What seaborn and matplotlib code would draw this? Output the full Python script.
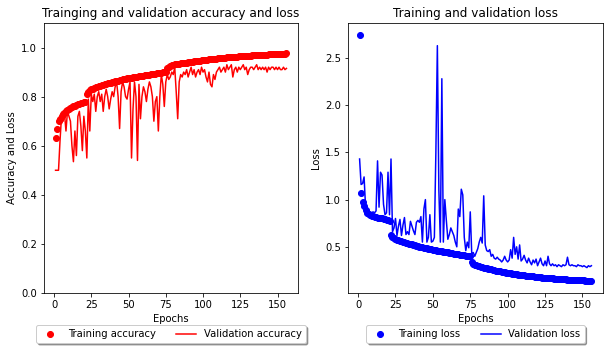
import numpy as np
import pandas as pd
import matplotlib
matplotlib.use("Agg")
import matplotlib.pyplot as plt
import seaborn as sns

epochs = list(range(1, 157))

train_acc = [
    0.63, 0.67, 0.70, 0.71, 0.72, 0.73, 0.735, 0.74, 0.745, 0.75,
    0.752, 0.756, 0.76, 0.762, 0.765, 0.768, 0.77, 0.773, 0.776, 0.778,
    0.78, 0.81, 0.82, 0.826, 0.83, 0.833, 0.836, 0.838, 0.84, 0.842,
    0.844, 0.846, 0.848, 0.85, 0.852, 0.854, 0.856, 0.857, 0.859, 0.861,
    0.862, 0.864, 0.865, 0.867, 0.868, 0.87, 0.871, 0.872, 0.874, 0.875,
    0.876, 0.877, 0.879, 0.88, 0.881, 0.882, 0.883, 0.884, 0.885, 0.886,
    0.887, 0.888, 0.889, 0.89, 0.891, 0.892, 0.893, 0.894, 0.895, 0.896,
    0.897, 0.898, 0.899, 0.90, 0.901, 0.915, 0.922, 0.926, 0.928, 0.93,
    0.931, 0.932, 0.933, 0.934, 0.935, 0.936, 0.937, 0.938, 0.939, 0.94,
    0.941, 0.942, 0.943, 0.944, 0.945, 0.946, 0.947, 0.947, 0.948, 0.949,
    0.95, 0.951, 0.951, 0.952, 0.953, 0.953, 0.954, 0.955, 0.955, 0.956,
    0.957, 0.957, 0.958, 0.958, 0.959, 0.96, 0.96, 0.961, 0.961, 0.962,
    0.962, 0.963, 0.963, 0.964, 0.964, 0.965, 0.965, 0.966, 0.966, 0.967,
    0.967, 0.967, 0.968, 0.968, 0.969, 0.969, 0.969, 0.97, 0.97, 0.97,
    0.971, 0.971, 0.971, 0.972, 0.972, 0.972, 0.973, 0.973, 0.973, 0.974,
    0.974, 0.974, 0.975, 0.975, 0.975, 0.976,
]

val_acc = [
    0.50, 0.50, 0.50, 0.62, 0.72, 0.70, 0.73, 0.66, 0.74, 0.72,
    0.70, 0.60, 0.535, 0.66, 0.56, 0.72, 0.74, 0.68, 0.58, 0.72,
    0.66, 0.55, 0.79, 0.66, 0.81, 0.78, 0.81, 0.74, 0.80, 0.82,
    0.78, 0.81, 0.74, 0.80, 0.83, 0.80, 0.75, 0.79, 0.82, 0.80,
    0.84, 0.86, 0.80, 0.67, 0.82, 0.86, 0.84, 0.80, 0.79, 0.83,
    0.86, 0.55, 0.75, 0.86, 0.80, 0.54, 0.85, 0.71, 0.80, 0.84,
    0.82, 0.78, 0.83, 0.86, 0.84, 0.80, 0.70, 0.78, 0.80, 0.66,
    0.80, 0.89, 0.85, 0.76, 0.86, 0.89, 0.87, 0.88, 0.90, 0.89,
    0.92, 0.82, 0.71, 0.86, 0.89, 0.88, 0.90, 0.89, 0.91, 0.88,
    0.90, 0.92, 0.89, 0.91, 0.88, 0.90, 0.91, 0.89, 0.92, 0.90,
    0.91, 0.88, 0.86, 0.90, 0.85, 0.84, 0.89, 0.87, 0.90, 0.91,
    0.92, 0.90, 0.91, 0.92, 0.90, 0.93, 0.91, 0.92, 0.93, 0.88,
    0.91, 0.92, 0.90, 0.92, 0.91, 0.92, 0.93, 0.91, 0.92, 0.89,
    0.91, 0.92, 0.92, 0.91, 0.92, 0.93, 0.91, 0.92, 0.91, 0.92,
    0.91, 0.92, 0.90, 0.92, 0.91, 0.92, 0.92, 0.91, 0.92, 0.91,
    0.92, 0.91, 0.91, 0.92, 0.91, 0.915,
]

train_loss = [
    2.74, 1.07, 0.97, 0.93, 0.89, 0.86, 0.85, 0.84, 0.83, 0.83,
    0.82, 0.82, 0.81, 0.81, 0.80, 0.80, 0.79, 0.79, 0.78, 0.78,
    0.77, 0.63, 0.60, 0.59, 0.58, 0.575, 0.57, 0.565, 0.56, 0.555,
    0.55, 0.545, 0.54, 0.535, 0.53, 0.525, 0.52, 0.515, 0.51, 0.505,
    0.50, 0.497, 0.494, 0.49, 0.487, 0.484, 0.48, 0.477, 0.474, 0.47,
    0.467, 0.464, 0.461, 0.458, 0.455, 0.452, 0.449, 0.446, 0.443, 0.44,
    0.437, 0.434, 0.431, 0.428, 0.425, 0.422, 0.42, 0.417, 0.414, 0.412,
    0.41, 0.407, 0.405, 0.402, 0.40, 0.34, 0.32, 0.31, 0.305, 0.30,
    0.295, 0.29, 0.285, 0.28, 0.276, 0.272, 0.268, 0.264, 0.26, 0.256,
    0.252, 0.249, 0.246, 0.243, 0.24, 0.237, 0.234, 0.231, 0.228, 0.225,
    0.222, 0.219, 0.216, 0.213, 0.21, 0.208, 0.206, 0.204, 0.202, 0.20,
    0.198, 0.196, 0.194, 0.192, 0.19, 0.188, 0.186, 0.184, 0.182, 0.18,
    0.178, 0.176, 0.175, 0.173, 0.172, 0.17, 0.169, 0.167, 0.166, 0.165,
    0.163, 0.162, 0.161, 0.16, 0.158, 0.157, 0.156, 0.155, 0.154, 0.153,
    0.152, 0.151, 0.15, 0.149, 0.148, 0.147, 0.146, 0.146, 0.145, 0.144,
    0.144, 0.143, 0.142, 0.142, 0.141, 0.141,
]

val_loss = [
    1.43, 1.16, 1.17, 1.24, 0.92, 0.88, 0.87, 0.86, 0.86, 0.87,
    0.86, 0.88, 1.41, 0.92, 1.29, 1.26, 0.95, 0.84, 0.86, 1.29,
    0.84, 1.43, 0.66, 0.70, 0.80, 0.62, 0.72, 0.79, 0.62, 0.73,
    0.81, 0.63, 0.66, 0.63, 0.77, 0.72, 0.67, 0.63, 0.76, 0.78,
    0.76, 0.82, 0.55, 0.90, 1.00, 0.55, 0.60, 0.84, 0.55, 0.56,
    0.60, 1.50, 2.63, 1.10, 0.55, 2.28, 0.55, 1.00, 0.78, 0.58,
    0.63, 0.70, 0.66, 0.62, 0.55, 0.50, 0.90, 0.82, 1.11, 1.05,
    0.60, 0.46, 0.55, 0.49, 0.87, 0.42, 0.44, 0.40, 0.44, 0.48,
    0.55, 0.60, 0.54, 1.04, 0.52, 0.46, 0.45, 0.47, 0.40, 0.42,
    0.38, 0.37, 0.39, 0.37, 0.36, 0.34, 0.36, 0.40, 0.36, 0.34,
    0.36, 0.47, 0.38, 0.60, 0.42, 0.50, 0.37, 0.52, 0.35, 0.37,
    0.41, 0.36, 0.33, 0.38, 0.34, 0.31, 0.36, 0.33, 0.37, 0.30,
    0.34, 0.38, 0.32, 0.30, 0.35, 0.30, 0.40, 0.32, 0.30, 0.32,
    0.30, 0.31, 0.29, 0.31, 0.30, 0.29, 0.31, 0.30, 0.31, 0.39,
    0.31, 0.30, 0.31, 0.30, 0.30, 0.29, 0.31, 0.30, 0.30, 0.29,
    0.30, 0.29, 0.28, 0.30, 0.29, 0.30,
]

df = pd.DataFrame({
    "epoch": epochs,
    "train_acc": train_acc,
    "val_acc": val_acc,
    "train_loss": train_loss,
    "val_loss": val_loss,
})

DPI = 72
fig = plt.figure(figsize=(609 / DPI, 350 / DPI), dpi=DPI)
W, H = 609, 350
ax1 = fig.add_axes([44 / W, (H - 293) / H, 254 / W, 270 / H])
ax2 = fig.add_axes([348 / W, (H - 293) / H, 255 / W, 270 / H])

# Left: accuracy
sns.scatterplot(data=df, x="epoch", y="train_acc", ax=ax1, color="red",
                s=36, edgecolor="red", linewidth=1, label="Training accuracy", zorder=3)
sns.lineplot(data=df, x="epoch", y="val_acc", ax=ax1, color="red",
             linewidth=1.5, label="Validation accuracy", zorder=2)
ax1.set_ylim(0, 1.1)
ax1.set_title("Trainging and validation accuracy and loss", fontsize=12)
ax1.set_xlabel("Epochs", fontsize=10)
ax1.set_ylabel("Accuracy and Loss", fontsize=10)
ax1.set_xticks([0, 25, 50, 75, 100, 125, 150])
ax1.legend(loc="upper center", bbox_to_anchor=(0.5, -0.1),
           ncol=2, shadow=True, fancybox=True, fontsize=10)

# Right: loss
sns.scatterplot(data=df, x="epoch", y="train_loss", ax=ax2, color="blue",
                s=36, edgecolor="blue", linewidth=1, label="Training loss", zorder=3)
sns.lineplot(data=df, x="epoch", y="val_loss", ax=ax2, color="blue",
             linewidth=1.5, label="Validation loss", zorder=2)
ax2.set_title("Training and validation loss", fontsize=12)
ax2.set_xlabel("Epochs", fontsize=10)
ax2.set_ylabel("Loss", fontsize=10)
ax2.set_xticks([0, 25, 50, 75, 100, 125, 150])
ax2.legend(loc="upper center", bbox_to_anchor=(0.5, -0.1),
           ncol=2, shadow=True, fancybox=True, fontsize=10)

fig.savefig("out.png", dpi=DPI)
